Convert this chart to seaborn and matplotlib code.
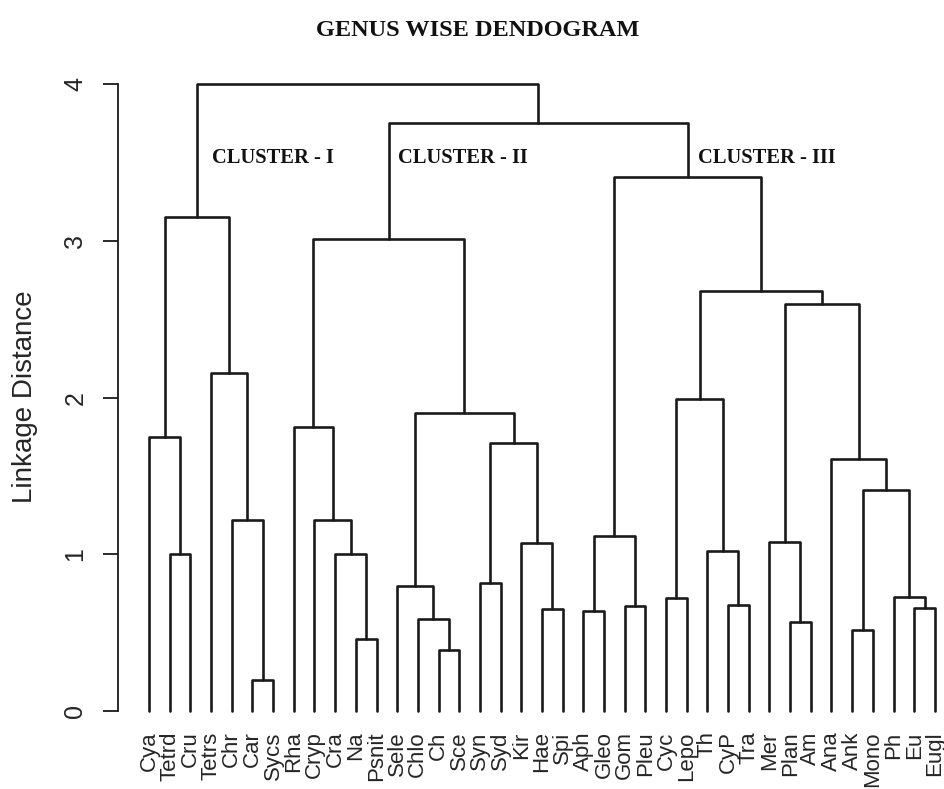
import matplotlib
matplotlib.use("Agg")
import matplotlib.pyplot as plt
import pandas as pd
import seaborn as sns

# leaf order as it appears on the x axis
leaves = ["Cya", "Tetrd", "Cru", "Tetrs", "Chr", "Car", "Sycs", "Rha", "Cryp",
          "Cra", "Na", "Psnit", "Sele", "Chlo", "Ch", "Sce", "Syn", "Syd",
          "Kir", "Hae", "Spi", "Aph", "Gleo", "Gom", "Pleu", "Cyc", "Lepo",
          "Th", "CyP", "Tra", "Mer", "Plan", "Am", "Ana", "Ank", "Mono", "Ph",
          "Eu", "Eugl"]

# merges: merge k creates node "n<k>"
merge_left = ["Tetrd", "Cya", "Car", "Chr", "Tetrs", "n1",
              "Na", "Cra", "Cryp", "Rha",
              "Ch", "Chlo", "Sele", "Syn", "Hae", "Kir", "n13", "n12", "n9",
              "Aph", "Gom", "n19", "Cyc", "CyP", "Th", "n22",
              "Plan", "Mer", "Ank", "Eu", "Ph", "n28", "Ana", "n27", "n25",
              "n21", "n18", "n5"]
merge_right = ["Cru", "n0", "Sycs", "n2", "n3", "n4",
               "Psnit", "n6", "n7", "n8",
               "Sce", "n10", "n11", "Syd", "Spi", "n14", "n15", "n16", "n17",
               "Gleo", "Pleu", "n20", "Lepo", "Tra", "n23", "n24",
               "Am", "n26", "Mono", "Eugl", "n29", "n30", "n31", "n32", "n33",
               "n34", "n35", "n36"]
merge_height = [1.00, 1.75, 0.20, 1.22, 2.16, 3.15,
                0.46, 1.00, 1.22, 1.81,
                0.39, 0.59, 0.80, 0.82, 0.65, 1.07, 1.71, 1.90, 3.01,
                0.64, 0.67, 1.12, 0.72, 0.68, 1.02, 1.99,
                0.57, 1.08, 0.52, 0.66, 0.73, 1.41, 1.61, 2.60, 2.68,
                3.41, 3.75, 4.00]

cluster_names = ["CLUSTER - I", "CLUSTER - II", "CLUSTER - III"]
cluster_x = [3.05, 12.05, 26.55]
cluster_y = [3.53, 3.53, 3.53]

# build the U-shaped links
pos = {name: (i, 0.0) for i, name in enumerate(leaves)}
rows = []
for k, (a, b, h) in enumerate(zip(merge_left, merge_right, merge_height)):
    xa, ha = pos[a]
    xb, hb = pos[b]
    for x, y in [(xa, ha), (xa, h), (xb, h), (xb, hb)]:
        rows.append({"link": k, "x": x, "y": y})
    pos["n%d" % k] = ((xa + xb) / 2, h)
df = pd.DataFrame(rows)

sns.set_style("ticks")
plt.rcParams['font.family'] = ['Liberation Sans', 'DejaVu Sans']

fig = plt.figure(figsize=(9.44, 7.89), dpi=100)
ax = fig.add_axes([0.125, 0.0748, 0.875, 0.8504])

sns.lineplot(data=df, x="x", y="y", units="link", estimator=None, sort=False,
             color="#1a1a1a", linewidth=1.9, ax=ax, legend=False)

ax.set_xlim(-1.5, 38.44)
ax.set_ylim(-0.12, 4.16)

for s in ["top", "right", "bottom"]:
    ax.spines[s].set_visible(False)
ax.spines["left"].set_bounds(0, 4)
ax.spines["left"].set_linewidth(1.3)
ax.spines["left"].set_color("#1a1a1a")

ax.set_xticks(range(len(leaves)))
ax.set_xticklabels(leaves, rotation=90, fontsize=16)
ax.tick_params(axis="x", length=0, pad=1)

ax.set_yticks([0, 1, 2, 3, 4])
ax.set_yticklabels(["0", "1", "2", "3", "4"], fontsize=18, rotation=90,
                   va="center")
ax.tick_params(axis="y", length=11, width=1.3, pad=11, color="#1a1a1a")

ax.set_xlabel("")
ax.set_ylabel("Linkage Distance", fontsize=20)
ax.yaxis.label.set_va("center")
ax.yaxis.set_label_coords(-0.113, 0.496)

for name, x, y in zip(cluster_names, cluster_x, cluster_y):
    ax.text(x, y, name, ha="left", va="center", fontsize=14.8,
            family="Liberation Serif", weight="bold", color="#111111")

fig.text(0.506, 1 - 30 / 789, "GENUS WISE DENDOGRAM", ha="center",
         va="center", fontsize=17.5, family="Liberation Serif", weight="bold",
         color="#111111")

fig.savefig("out.png", dpi=100)
